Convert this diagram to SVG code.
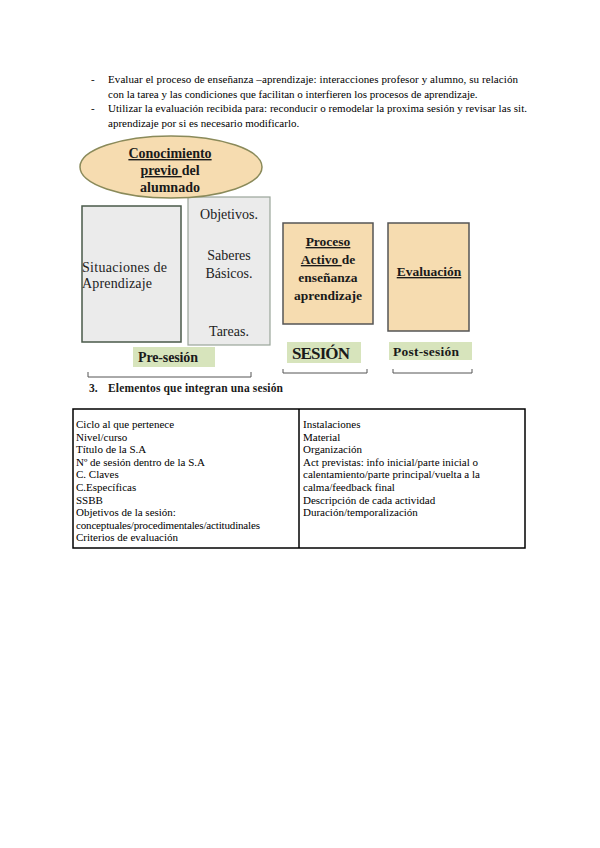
<svg xmlns="http://www.w3.org/2000/svg" width="600" height="848" viewBox="0 0 600 848">
<style>
.t{font-family:"Liberation Serif","Times New Roman",serif;font-size:11px;fill:#000}
.b{font-family:"Liberation Serif","Times New Roman",serif;font-weight:bold;fill:#1a1a1a}
.u{text-decoration:underline}
.n{font-family:"Liberation Serif","Times New Roman",serif;font-size:14px;fill:#222}
.br{fill:none;stroke:#555;stroke-width:1}
</style>
<rect width="600" height="848" fill="#fff"/>
<g id="bullets">
<text class="t" x="91" y="83">-</text>
<text class="t" x="108" y="83" textLength="410">Evaluar el proceso de enseñanza –aprendizaje: interacciones profesor y alumno, su relación</text>
<text class="t" x="108" y="98">con la tarea y las condiciones que facilitan o interfieren los procesos de aprendizaje.</text>
<text class="t" x="91" y="112">-</text>
<text class="t" x="108" y="112" textLength="419">Utilizar la evaluación recibida para: reconducir o remodelar la proxima sesión y revisar las sit.</text>
<text class="t" x="108" y="127">aprendizaje por si es necesario modificarlo.</text>
</g>
<g id="situaciones">
<rect x="82" y="206" width="99" height="136" fill="#ebebeb" stroke="#4a5a4a" stroke-width="1.5"/>
<text class="n" x="82" y="272" textLength="85">Situaciones de</text>
<text class="n" x="82" y="288" textLength="70">Aprendizaje</text>
</g>
<g id="objetivos">
<rect x="188" y="197" width="82" height="148" fill="#ebebeb" stroke="#9aa59a" stroke-width="1.2"/>
<text class="n" x="229" y="219" text-anchor="middle">Objetivos.</text>
<text class="n" x="229" y="260" text-anchor="middle">Saberes</text>
<text class="n" x="229" y="278" text-anchor="middle">Básicos.</text>
<text class="n" x="229" y="336" text-anchor="middle">Tareas.</text>
</g>
<g id="conocimiento">
<ellipse cx="171" cy="167" rx="91" ry="31" fill="#f6dcb0" stroke="#8a8a5a" stroke-width="1.5"/>
<text class="b" font-size="14" x="170" y="158" text-anchor="middle"><tspan class="u">Conocimiento</tspan></text>
<text class="b" font-size="14" x="170" y="175" text-anchor="middle"><tspan class="u">previo </tspan>del</text>
<text class="b" font-size="14" x="170" y="192" text-anchor="middle">alumnado</text>
</g>
<g id="proceso">
<rect x="283" y="223" width="90" height="101" fill="#f6dcb0" stroke="#555" stroke-width="1.5"/>
<text class="b" font-size="13.5" x="328" y="246" text-anchor="middle"><tspan class="u">Proceso</tspan></text>
<text class="b" font-size="13.5" x="328" y="264" text-anchor="middle"><tspan class="u">Activo </tspan>de</text>
<text class="b" font-size="13.5" x="328" y="282" text-anchor="middle">enseñanza</text>
<text class="b" font-size="13.5" x="328" y="300" text-anchor="middle">aprendizaje</text>
</g>
<g id="evaluacion">
<rect x="388" y="223" width="81" height="108" fill="#f6dcb0" stroke="#555" stroke-width="1.5"/>
<text class="b" font-size="13.5" x="429" y="276" text-anchor="middle"><tspan class="u">Evaluación</tspan></text>
</g>
<g id="presesion">
<rect x="133" y="347" width="82" height="20" fill="#d7e4bc"/>
<text class="b" font-size="14" x="138" y="362" textLength="60">Pre-sesión</text>
</g>
<g id="sesion">
<rect x="287" y="342" width="74" height="21" fill="#d7e4bc"/>
<text class="b" font-size="17" x="292" y="359" textLength="58">SESIÓN</text>
</g>
<g id="postsesion">
<rect x="389" y="342" width="83" height="18" fill="#d7e4bc"/>
<text class="b" font-size="13.5" x="393" y="355.5" textLength="66">Post-sesión</text>
</g>
<g id="connectors">
<path class="br" d="M88 372 V377 H251 V372"/>
<path class="br" d="M283 369 V373 H367 V369"/>
<path class="br" d="M393 369 V373 H472 V369"/>
</g>
<g id="heading">
<text class="b" font-size="11.5" x="89" y="392" fill="#000">3.</text>
<text class="b" font-size="11.5" x="108" y="392" fill="#000" textLength="175">Elementos que integran una sesión</text>
</g>
<g id="table">
<rect x="73" y="409" width="452" height="139" fill="none" stroke="#000" stroke-width="1.5"/>
<line x1="299" y1="409" x2="299" y2="548" stroke="#000" stroke-width="1.5"/>
<text class="t" x="76" y="428">Ciclo al que pertenece</text>
<text class="t" x="76" y="440.6">Nivel/curso</text>
<text class="t" x="76" y="453.2">Título de la S.A</text>
<text class="t" x="76" y="465.8">Nº de sesión dentro de la S.A</text>
<text class="t" x="76" y="478.4">C. Claves</text>
<text class="t" x="76" y="491">C.Específicas</text>
<text class="t" x="76" y="503.6">SSBB</text>
<text class="t" x="76" y="516.2">Objetivos de la sesión:</text>
<text class="t" x="76" y="528.8" textLength="184">conceptuales/procedimentales/actitudinales</text>
<text class="t" x="76" y="541.4">Criterios de evaluación</text>
<text class="t" x="303" y="428">Instalaciones</text>
<text class="t" x="303" y="440.6">Material</text>
<text class="t" x="303" y="453.2">Organización</text>
<text class="t" x="303" y="465.8">Act previstas: info inicial/parte inicial o</text>
<text class="t" x="303" y="478.4">calentamiento/parte principal/vuelta a la</text>
<text class="t" x="303" y="491">calma/feedback final</text>
<text class="t" x="303" y="503.6">Descripción de cada actividad</text>
<text class="t" x="303" y="516.2">Duración/temporalización</text>
</g>
</svg>
